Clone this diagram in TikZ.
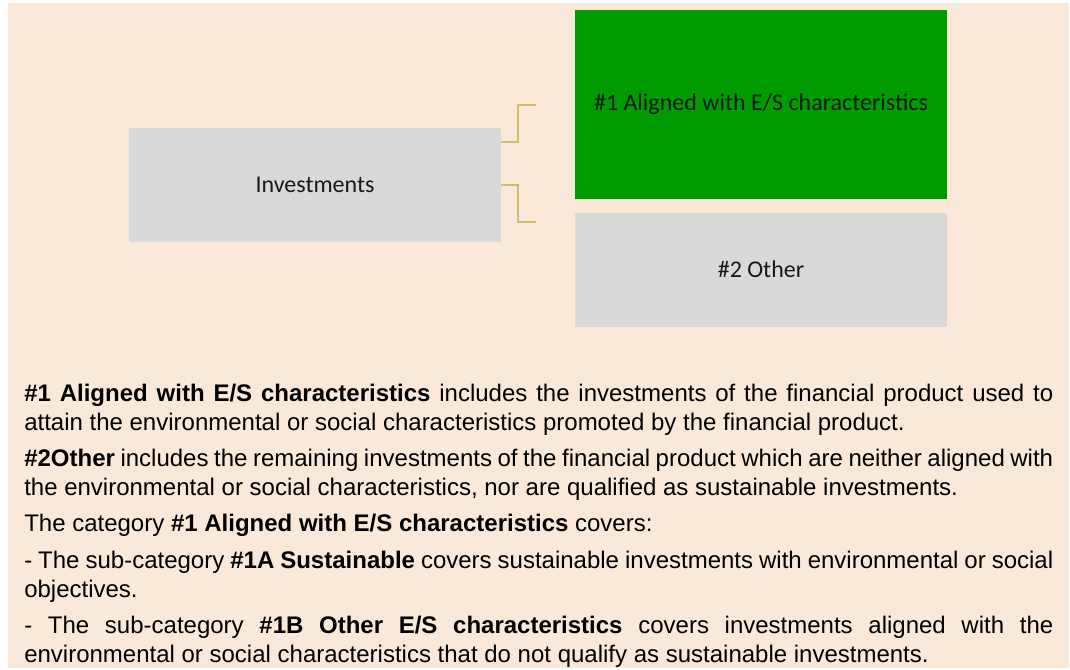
\documentclass[tikz,border=0pt]{standalone}
\usepackage{fontspec}
\setmainfont{Liberation Sans}
\newfontfamily\boxfont{Carlito}
\usetikzlibrary{positioning}
\usetikzlibrary{calc}

\definecolor{panelbg}{RGB}{250,232,216}
\definecolor{boxgray}{RGB}{217,217,217}
\definecolor{boxgreen}{RGB}{0,155,0}
\definecolor{bracketline}{RGB}{204,192,112}

\begin{document}
\begin{tikzpicture}[
    x=0.75pt, y=-0.75pt,
    block/.style={rectangle, draw=none, fill=boxgray, minimum width=279pt, minimum height=85.5pt, font=\boxfont\fontsize{18}{21}\selectfont, text=black!90},
    bracket/.style={draw=bracketline, line width=1.5pt},
    desc/.style={anchor=north west, inner sep=0pt, text width=771.75pt, align=justify, font=\fontsize{18}{21.75}\selectfont},
]
    \useasboundingbox (0,0) rectangle (1070,669);
    \fill[panelbg] (8,3) rectangle (1069,668);

    \node[block] (invest) at (315,185) {Investments};
    \node[block, fill=boxgreen, minimum height=141.75pt] (aligned) at (761,104.5) {\#1 Aligned with E/S characteristics};
    \node[block] (other) [below=9.75pt of aligned] {\#2 Other};

    \coordinate (upend) at ($(aligned.west)+(-39,0)$);
    \coordinate (downend) at ($(other.north west)+(-39,10)$);

    \draw[bracket] ($(invest.north east)+(0,14)$) -- ++(17,0) |- (upend);
    \draw[bracket] (invest.east) -- ++(17,0) |- (downend);

    \node[desc] (desc) at (24,380.5) {\setlength\parindent{0pt}\setlength\parskip{5.5pt}\hyphenpenalty=10000\exhyphenpenalty=10000%
        \strut\textbf{\#1 Aligned with E/S characteristics} includes the investments of the financial product used to attain the environmental or social characteristics promoted by the financial product.\par
        \textbf{\#2Other} includes the remaining investments of the financial product which are neither aligned with the environmental or social characteristics, nor are qualified as sustainable investments.\par
        The category \textbf{\#1 Aligned with E/S characteristics} covers:\par
        - The sub-category \textbf{\#1A Sustainable} covers sustainable investments with environmental or social objectives.\par
        - The sub-category \textbf{\#1B Other E/S characteristics} covers investments aligned with the\linebreak environmental or social characteristics that do not qualify as sustainable investments.};
\end{tikzpicture}
\end{document}
